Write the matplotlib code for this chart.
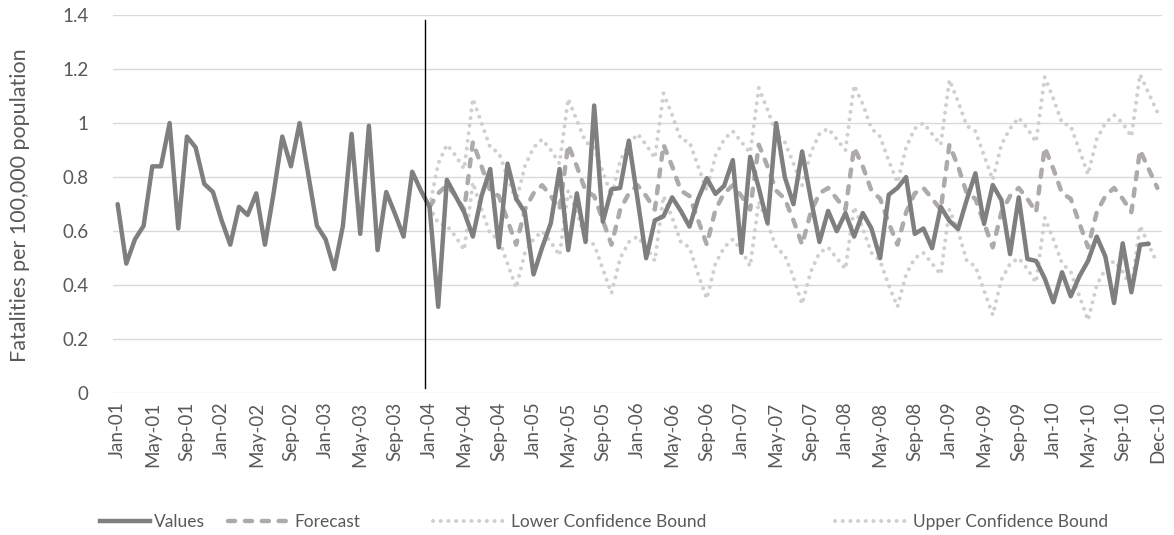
import matplotlib
matplotlib.use("Agg")
import matplotlib.pyplot as plt
from matplotlib.lines import Line2D

plt.rcParams['font.family'] = ['Lato', 'DejaVu Sans']

# ---- data -------------------------------------------------------------
tick_labels = ["Jan-01", "May-01", "Sep-01", "Jan-02", "May-02", "Sep-02", "Jan-03", "May-03",
               "Sep-03", "Jan-04", "May-04", "Sep-04", "Jan-05", "May-05", "Sep-05", "Jan-06",
               "May-06", "Sep-06", "Jan-07", "May-07", "Sep-07", "Jan-08", "May-08", "Sep-08",
               "Jan-09", "May-09", "Sep-09", "Jan-10", "May-10", "Sep-10", "Dec-10"]
tick_index = list(range(0, 117, 4)) + [120]

values = [0.70, 0.48, 0.57, 0.62, 0.84, 0.84, 1.00, 0.61, 0.95, 0.91,
          0.775, 0.745, 0.64, 0.55, 0.69, 0.66, 0.74, 0.55, 0.74, 0.95,
          0.84, 1.00, 0.81, 0.62, 0.57, 0.46, 0.62, 0.96, 0.59, 0.99,
          0.53, 0.745, 0.665, 0.58, 0.82, 0.75, 0.69, 0.32, 0.79, 0.73,
          0.67, 0.58, 0.73, 0.83, 0.54, 0.85, 0.72, 0.67, 0.44, 0.54,
          0.63, 0.83, 0.53, 0.74, 0.56, 1.065, 0.635, 0.755, 0.76, 0.935,
          0.72, 0.50, 0.64, 0.655, 0.725, 0.675, 0.617, 0.72, 0.796, 0.738,
          0.768, 0.863, 0.52, 0.875, 0.76, 0.63, 1.00, 0.80, 0.70, 0.895,
          0.72, 0.56, 0.675, 0.60, 0.667, 0.58, 0.667, 0.61, 0.50, 0.735,
          0.76, 0.80, 0.59, 0.61, 0.537, 0.69, 0.638, 0.608, 0.716, 0.814,
          0.627, 0.771, 0.715, 0.515, 0.725, 0.497, 0.49, 0.425, 0.337, 0.448,
          0.359, 0.433, 0.49, 0.58, 0.506, 0.334, 0.555, 0.374, 0.55, 0.553]

forecast_start = 36
forecast = [0.69, 0.74, 0.77, 0.73, 0.68, 0.93, 0.84, 0.75, 0.73, 0.64,
            0.55, 0.68, 0.74, 0.77, 0.73, 0.68, 0.92, 0.84, 0.75, 0.73,
            0.64, 0.55, 0.68, 0.74, 0.77, 0.73, 0.68, 0.92, 0.84, 0.75,
            0.73, 0.64, 0.55, 0.68, 0.74, 0.77, 0.73, 0.68, 0.92, 0.84,
            0.75, 0.72, 0.64, 0.55, 0.67, 0.74, 0.76, 0.72, 0.68, 0.91,
            0.84, 0.75, 0.72, 0.63, 0.55, 0.67, 0.74, 0.76, 0.72, 0.68,
            0.92, 0.84, 0.74, 0.72, 0.63, 0.54, 0.67, 0.73, 0.76, 0.72,
            0.67, 0.91, 0.83, 0.74, 0.72, 0.63, 0.54, 0.67, 0.73, 0.76,
            0.72, 0.67, 0.90, 0.83, 0.76]

lower = [0.69, 0.63, 0.62, 0.58, 0.53, 0.78, 0.68, 0.59, 0.57, 0.48,
         0.39, 0.52, 0.57, 0.60, 0.56, 0.51, 0.75, 0.67, 0.57, 0.55,
         0.46, 0.37, 0.50, 0.56, 0.58, 0.54, 0.49, 0.73, 0.65, 0.56,
         0.54, 0.44, 0.35, 0.48, 0.54, 0.57, 0.53, 0.47, 0.71, 0.63,
         0.54, 0.51, 0.43, 0.33, 0.45, 0.52, 0.54, 0.50, 0.46, 0.69,
         0.61, 0.52, 0.49, 0.40, 0.32, 0.44, 0.50, 0.52, 0.48, 0.44,
         0.68, 0.60, 0.49, 0.47, 0.38, 0.29, 0.42, 0.48, 0.50, 0.46,
         0.41, 0.65, 0.57, 0.48, 0.45, 0.36, 0.27, 0.40, 0.46, 0.49,
         0.45, 0.39, 0.62, 0.55, 0.48]

upper = [0.69, 0.85, 0.92, 0.88, 0.83, 1.09, 1.00, 0.91, 0.89, 0.80,
         0.71, 0.84, 0.91, 0.94, 0.90, 0.85, 1.09, 1.01, 0.93, 0.91,
         0.82, 0.73, 0.86, 0.92, 0.96, 0.92, 0.87, 1.11, 1.03, 0.94,
         0.93, 0.84, 0.75, 0.88, 0.94, 0.97, 0.93, 0.89, 1.13, 1.05,
         0.96, 0.93, 0.85, 0.77, 0.89, 0.96, 0.98, 0.94, 0.90, 1.14,
         1.07, 0.98, 0.95, 0.86, 0.78, 0.91, 0.98, 1.00, 0.96, 0.92,
         1.16, 1.08, 0.99, 0.97, 0.88, 0.79, 0.92, 0.98, 1.02, 0.98,
         0.93, 1.17, 1.09, 1.00, 0.99, 0.90, 0.81, 0.94, 1.00, 1.03,
         1.00, 0.95, 1.18, 1.11, 1.04]

series_names = ["Values", "Forecast", "Lower Confidence Bound", "Upper Confidence Bound"]
split_position = 35.5

# ---- figure -----------------------------------------------------------
TEXT = "#595959"
W, H = 1174, 535
fig = plt.figure(figsize=(W / 100, H / 100), dpi=100)
ax = fig.add_axes([113.3 / W, 1 - 393.3 / H, (1161.7 - 113.3) / W, (393.3 - 15) / H])

x_vals = list(range(len(values)))
x_fc = list(range(forecast_start, forecast_start + len(forecast)))

dot_style = (0, (0.01, 1.9))
dash_style = (0, (1.6, 2.2))
ax.plot(x_fc, lower, color="#d0cece", lw=2.9, linestyle=dot_style,
        dash_capstyle="round", zorder=2)
ax.plot(x_fc, upper, color="#d0cece", lw=2.9, linestyle=dot_style,
        dash_capstyle="round", zorder=2)
ax.plot(x_fc, forecast, color="#aeaaaa", lw=3.2, linestyle=dash_style,
        dash_capstyle="round", zorder=3)
ax.plot(x_vals, values, color="#7f7f7f", lw=3.2, solid_joinstyle="round",
        solid_capstyle="round", zorder=4)
ax.plot([split_position, split_position], [0.02, 1.38], color="black", lw=1.0, zorder=5)

ax.set_xlim(-0.5, 120.5)
ax.set_ylim(0, 1.4)
ax.set_yticks([0, 0.2, 0.4, 0.6, 0.8, 1.0, 1.2, 1.4])
ax.set_yticklabels(["0", "0.2", "0.4", "0.6", "0.8", "1", "1.2", "1.4"])
ax.set_xticks(tick_index)
ax.set_xticklabels(tick_labels, rotation=90)
ax.tick_params(axis="both", length=0, colors=TEXT, labelsize=13.5)
ax.tick_params(axis="y", pad=18)
ax.tick_params(axis="x", pad=6)
ax.grid(axis="y", color="#d9d9d9", lw=1.0)
ax.set_axisbelow(True)
for s in ax.spines.values():
    s.set_visible(False)
ax.set_ylabel("Fatalities per 100,000 population", color=TEXT, fontsize=15.5)
ax.yaxis.set_label_coords((30 - 113.3) / (1161.7 - 113.3), (393.3 - 205) / (393.3 - 15))

# legend entries placed one by one (Excel-like spacing)
entries = [
    (Line2D([], [], color="#7f7f7f", lw=3.2), 100, 2.9),
    (Line2D([], [], color="#aeaaaa", lw=3.2, linestyle=dash_style, dash_capstyle="round"), 228, 3.6),
    (Line2D([], [], color="#d0cece", lw=2.9, linestyle=dot_style, dash_capstyle="round"), 433, 4.3),
    (Line2D([], [], color="#d0cece", lw=2.9, linestyle=dot_style, dash_capstyle="round"), 835, 4.3),
]
for (h, x0, hl), name in zip(entries, series_names):
    fig.legend([h], [name], loc="center left", bbox_to_anchor=(x0 / W, 1 - 522 / H),
               frameon=False, fontsize=12.5, labelcolor=TEXT, handlelength=hl,
               handletextpad=0.2, borderpad=0, borderaxespad=0)

fig.savefig("out.png", dpi=100)
